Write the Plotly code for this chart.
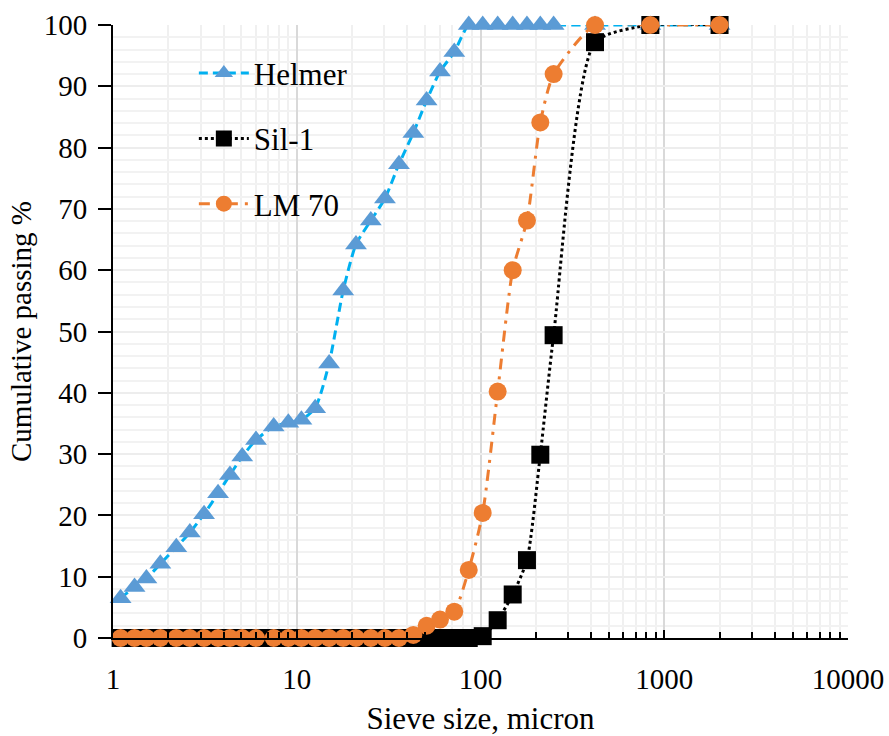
import plotly.graph_objects as go

# Sieve sizes (micron)
sizes = [1.10, 1.31, 1.52, 1.81, 2.21, 2.62, 3.13, 3.73, 4.33, 5.05, 6.0, 7.49,
         9.0, 10.6, 12.6, 15.0, 17.9, 21.0, 25.3, 30.2, 36.0, 43.1, 50.9, 60.2,
         72.0, 86.3, 102.8, 124, 149.7, 179, 211.6, 250, 420, 840, 2000]

helmer = [6.5, 8.3, 9.7, 12.1, 14.8, 17.2, 20.2, 23.6, 26.6, 29.6, 32.3, 34.5,
          35.1, 35.6, 37.5, 44.8, 56.7, 64.2, 68.1, 71.7, 77.3, 82.4, 87.7, 92.4,
          95.6, 100, 100, 100, 100, 100, 100, 100, 100, 100, 100]

sil1 = [0, 0, 0, 0, 0, 0, 0, 0, 0, 0, 0, 0,
        0, 0, 0, 0, 0, 0, 0, 0, 0, 0, 0, 0,
        0, 0, 0.3, 2.9, 7.1, 12.7, 29.9, 49.4, 97.2, 100, 100]

lm70 = [0, 0, 0, 0, 0, 0, 0, 0, 0, 0, 0, 0,
        0, 0, 0, 0, 0, 0, 0, 0, 0, 0.5, 2.0, 3.0,
        4.3, 11.1, 20.4, 40.2, 60.0, 68.1, 84.1, 92.0, 100, 100, 100]

x_ticks = [1, 10, 100, 1000, 10000]
x_tick_text = ["1", "10", "100", "1000", "10000"]

FONT = '"Times New Roman", "Liberation Serif", serif'

fig = go.Figure()
fig.add_trace(go.Scatter(
    x=sizes, y=helmer, name="Helmer", legendgroup="a", mode="lines+markers",
    line=dict(color="#00B0F0", width=3, dash="9px,5px", shape="spline", smoothing=0.6),
    marker=dict(symbol="triangle-up", size=19, color="#5B9BD5"),
    cliponaxis=False))
fig.add_trace(go.Scatter(
    x=sizes, y=sil1, name="Sil-1", legendgroup="b", mode="lines+markers",
    line=dict(color="#000000", width=3, dash="dot", shape="spline", smoothing=0.6),
    marker=dict(symbol="square", size=18, color="#000000"),
    cliponaxis=False))
fig.add_trace(go.Scatter(
    x=sizes, y=lm70, name="LM 70", legendgroup="c", mode="lines+markers",
    line=dict(color="#ED7D31", width=3, dash="11px,7px,3px,7px", shape="spline", smoothing=0.6),
    marker=dict(symbol="circle", size=18, color="#ED7D31"),
    cliponaxis=False))

fig.update_layout(
    width=889, height=736,
    margin=dict(l=113, r=41, t=25, b=98),
    paper_bgcolor="white", plot_bgcolor="white",
    font=dict(family=FONT, color="black", size=28),
    showlegend=True,
    legend=dict(x=0.11, y=0.965, xanchor="left", yanchor="top",
                bgcolor="rgba(0,0,0,0)", font=dict(size=31, family=FONT),
                tracegroupgap=22, itemwidth=50),
    xaxis=dict(
        type="log", range=[0, 4], automargin=False,
        tickvals=x_ticks, ticktext=x_tick_text,
        showline=True, linecolor="black", linewidth=2,
        ticks="inside", ticklen=8, tickwidth=2, tickcolor="black",
        showgrid=True, gridcolor="#D9D9D9", gridwidth=2,
        minor=dict(dtick="D1", ticks="inside", ticklen=6, tickwidth=2, tickcolor="black",
                   showgrid=True, gridcolor="#F0F0F0", gridwidth=2),
        tickfont=dict(size=29, family=FONT),
        ticklabelstandoff=14,
        title=dict(text="Sieve size, micron", font=dict(size=31, family=FONT), standoff=14),
        zeroline=False, mirror=False,
    ),
    yaxis=dict(
        range=[0, 100], dtick=10, tick0=0, automargin=False,
        showline=True, linecolor="black", linewidth=2,
        ticks="outside", ticklen=13, tickwidth=2, tickcolor="black",
        showgrid=True, gridcolor="#EDEDED", gridwidth=2,
        minor=dict(dtick=2, showgrid=True, gridcolor="#F2F2F2", gridwidth=2, ticks=""),
        tickfont=dict(size=29, family=FONT),
        ticklabelstandoff=5,
        title=dict(text="Cumulative passing %", font=dict(size=29, family=FONT), standoff=4),
        zeroline=False,
    ),
)

fig.write_html("out.html")
